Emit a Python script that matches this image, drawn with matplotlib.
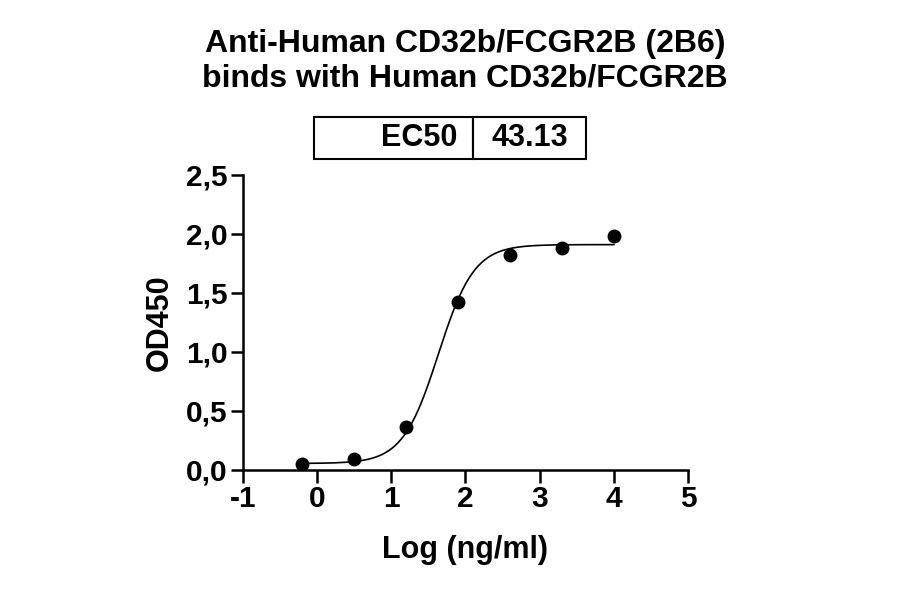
import numpy as np
import matplotlib
matplotlib.use("Agg")
import matplotlib.pyplot as plt
from matplotlib.ticker import FuncFormatter

plt.rcParams['font.family'] = ['Liberation Sans', 'DejaVu Sans']
plt.rcParams['font.weight'] = 'bold'

# data
log_conc = [-0.2, 0.5, 1.2, 1.9, 2.6, 3.3, 4.0]
od450 = [0.05, 0.09, 0.36, 1.42, 1.82, 1.88, 1.98]

# 4PL fit parameters (EC50 from the figure)
ec50 = 43.13
bottom = 0.055
top = 1.91
hill = 1.8

title = "Anti-Human CD32b/FCGR2B (2B6)\nbinds with Human CD32b/FCGR2B"

xfit = np.linspace(min(log_conc), max(log_conc), 300)
yfit = bottom + (top - bottom) / (1 + 10 ** ((np.log10(ec50) - xfit) * hill))

fig = plt.figure(figsize=(9, 5.94), dpi=100)
ax = fig.add_axes([0.27, 0.2088, 0.4944, 0.4966])

ax.plot(xfit, yfit, color="black", lw=1.2)
ax.plot(log_conc, od450, "o", color="black", ms=9)

ax.set_xlim(-1, 5)
ax.set_ylim(0, 2.5)
ax.set_xticks(range(-1, 6))
ax.set_yticks(np.arange(0, 2.51, 0.5))
ax.xaxis.set_major_formatter(FuncFormatter(lambda v, p: f"{v:.0f}"))
ax.yaxis.set_major_formatter(FuncFormatter(lambda v, p: f"{v:.1f}".replace(".", ",")))

for s in ["top", "right"]:
    ax.spines[s].set_visible(False)
for s in ["left", "bottom"]:
    ax.spines[s].set_linewidth(1.8)
ax.tick_params(width=1.8, length=9, labelsize=21.5, pad=2)
for lab in ax.get_xticklabels() + ax.get_yticklabels():
    lab.set_fontweight("bold")

ax.set_xlabel("Log (ng/ml)", fontsize=22, fontweight="bold", labelpad=16)
ax.set_ylabel("OD450", fontsize=22, fontweight="bold", labelpad=8)

fig.text(0.517, 0.897, title, ha="center", va="center", fontsize=23,
         fontweight="bold", linespacing=1.2)

# EC50 table box
tab = ax.table(cellText=[["EC50", f"{ec50:.2f}"]], cellLoc="center",
               colWidths=[0.585, 0.415], bbox=[0.16, 1.054, 0.611, 0.143])
tab.auto_set_font_size(False)
for (r, c), cell in tab.get_celld().items():
    cell.set_linewidth(1.5)
    cell.get_text().set_fontsize(22)
    cell.get_text().set_fontweight("bold")
    if c == 0:
        cell._loc = "right"
        cell.PAD = 0.1
        cell.get_text().set_ha("right")

fig.savefig("out.png", dpi=100)
